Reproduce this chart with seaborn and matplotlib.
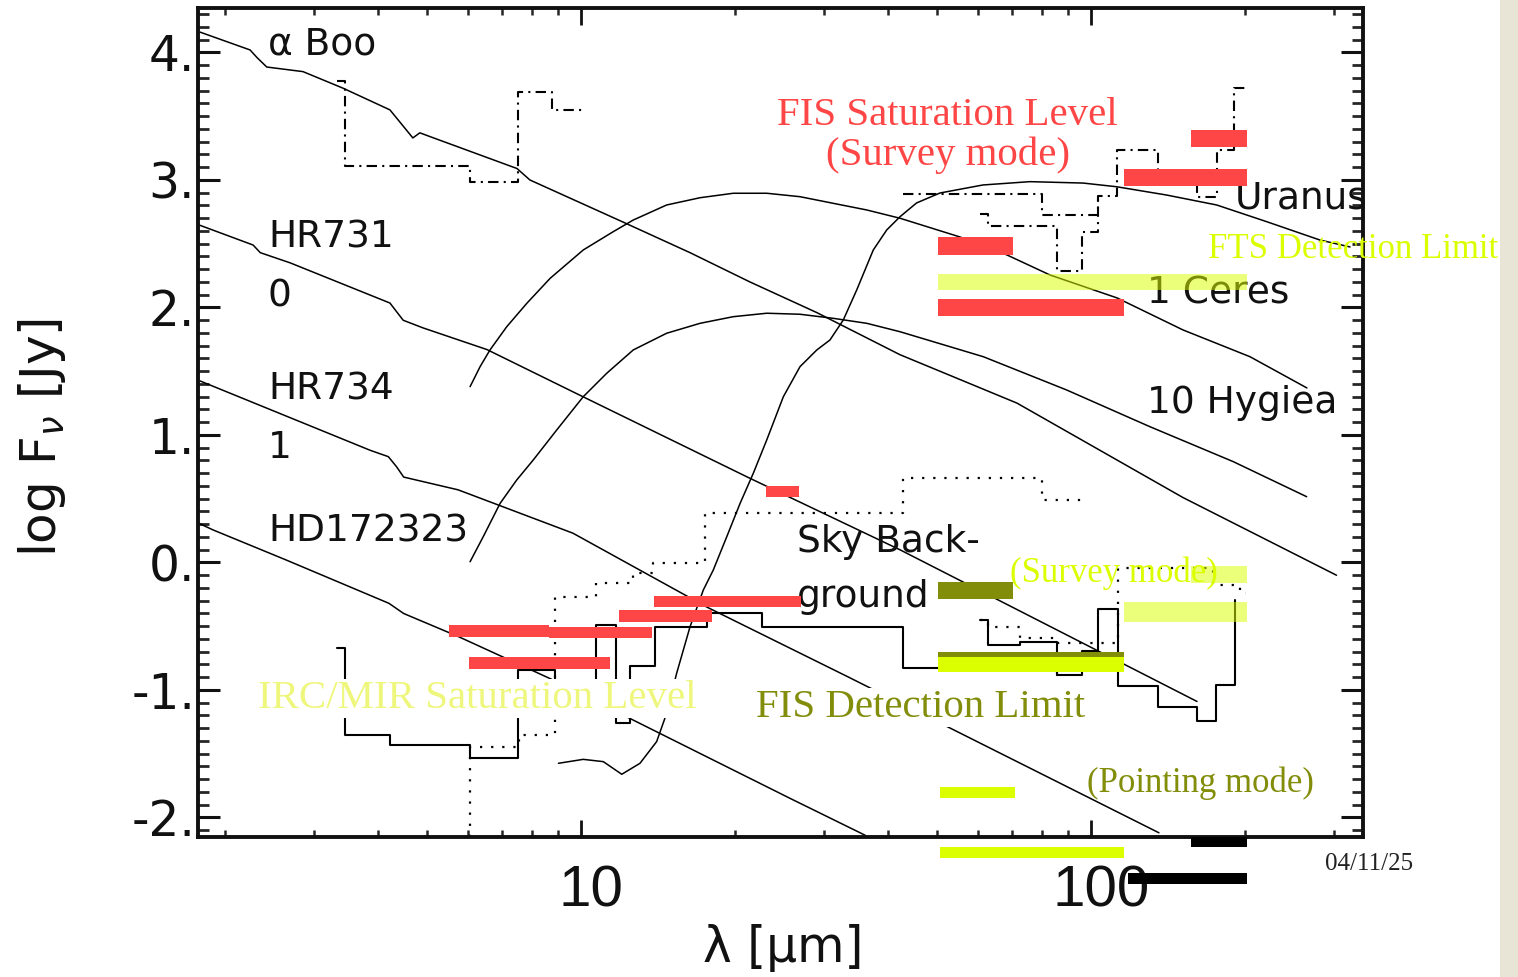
import numpy as np
import matplotlib
matplotlib.use("Agg")
import matplotlib.pyplot as plt
import matplotlib.ticker as mticker
import matplotlib.transforms as mtransforms
from matplotlib.patches import Rectangle
import seaborn as sns

# ---------------- data ----------------
# stellar spectra (lambda [um], log F [Jy])
aboo_lam = [1.79, 2.244, 2.316, 2.42, 2.85, 3.415, 4.22, 4.68, 4.83, 5.06, 7.49, 7.94, 12.09, 16.36, 21.45, 29.0, 42.2, 71.6, 151.4, 303]
aboo_f = [4.16, 4.02, 3.96, 3.886, 3.85, 3.72, 3.55, 3.33, 3.37, 3.34, 3.09, 3.00, 2.67, 2.43, 2.20, 1.96, 1.63, 1.25, 0.51, -0.10]

hr7310_lam = [1.775, 2.275, 2.35, 2.69, 4.22, 4.48, 4.90, 6.54, 10.09, 21.45, 42.2, 161.4]
hr7310_f = [2.65, 2.49, 2.43, 2.35, 2.035, 1.90, 1.84, 1.67, 1.30, 0.66, 0.10, -1.09]

hr7341_lam = [1.775, 3.86, 4.19, 4.35, 4.49, 5.74, 9.64, 17.66, 33.5, 135.9]
hr7341_f = [1.43, 0.88, 0.83, 0.75, 0.67, 0.57, 0.23, -0.35, -0.90, -2.12]

hd172323_lam = [1.775, 1.90, 2.64, 4.2, 4.49, 5.74, 8.69, 25.7, 36.1]
hd172323_f = [0.31, 0.255, 0.02, -0.32, -0.40, -0.58, -0.91, -1.85, -2.14]

# solar system objects
ceres_lam = [6.06, 6.34, 6.63, 7.15, 7.83, 8.70, 10.10, 11.57, 12.66, 14.72, 17.12, 19.89, 23.13, 26.88, 31.24, 36.33, 42.22, 55.36, 68.44, 83.1, 112.5, 151.5, 205, 265.1]
ceres_f = [1.379, 1.536, 1.667, 1.849, 2.033, 2.229, 2.451, 2.595, 2.686, 2.804, 2.861, 2.896, 2.896, 2.869, 2.817, 2.765, 2.70, 2.553, 2.412, 2.255, 2.075, 1.824, 1.614, 1.369]

hygiea_lam = [6.06, 6.43, 6.94, 7.48, 8.06, 8.96, 10.10, 11.23, 12.66, 14.72, 17.12, 19.89, 23.13, 26.88, 31.24, 36.33, 42.22, 61.5, 89.6, 130.5, 190.1, 264.8]
hygiea_f = [0.006, 0.202, 0.464, 0.647, 0.804, 1.039, 1.30, 1.484, 1.667, 1.798, 1.876, 1.928, 1.955, 1.947, 1.915, 1.876, 1.81, 1.614, 1.353, 1.065, 0.791, 0.516]

uranus_lam = [9.03, 10.10, 11.06, 12.02, 13.05, 14.07, 14.72, 15.40, 16.36, 17.37, 18.17, 19.31, 20.51, 21.77, 23.13, 24.93, 26.88, 29.0, 30.77, 32.68, 34.72, 37.42, 39.76, 42.22, 45.5, 50.57, 61.4, 75.9, 96.5, 112.3, 140.7, 176.4, 221.1, 281.2, 322]
uranus_f = [-1.575, -1.544, -1.562, -1.661, -1.575, -1.405, -1.183, -0.869, -0.504, -0.216, -0.059, 0.202, 0.464, 0.70, 0.961, 1.30, 1.536, 1.667, 1.745, 1.902, 2.137, 2.451, 2.608, 2.712, 2.82, 2.898, 2.961, 2.987, 2.976, 2.947, 2.882, 2.804, 2.673, 2.529, 2.475]

# stepped curves (step edges, levels)
dashdot1_lam = [3.32, 3.445, 6.06, 7.52, 8.77, 10.05]
dashdot1_f = [3.78, 3.11, 2.985, 3.69, 3.55, 3.55]
dashdot2_lam = [42.8, 80.2, 103.2, 112.5, 135.3, 161.4, 176.6, 190.7, 201]
dashdot2_f = [2.89, 2.725, 2.875, 3.235, 3.0, 2.867, 3.235, 3.72, 3.72]
dashdot3_lam = [60.6, 62.8, 85.8, 96.0, 103.2]
dashdot3_f = [2.73, 2.64, 2.29, 2.59, 2.875]

dotted1_lam = [6.07, 6.07, 7.56, 8.89, 10.7, 12.65, 13.84, 17.5, 42.8, 80.2, 97.3]
dotted1_f = [-2.15, -1.447, -1.353, -0.271, -0.161, -0.082, -0.004, 0.388, 0.663, 0.49, 0.49]
dotted2_lam = [60.6, 62.8, 72.6, 85.8, 113, 173.4, 195.9, 201]
dotted2_f = [-0.451, -0.506, -0.592, -0.631, -0.043, -0.176, -0.239, -0.239]

solid1_lam = [3.32, 3.445, 4.22, 6.06, 7.52, 8.89, 10.7, 11.71, 12.48, 13.97, 17.66, 22.64, 42.8, 85.8, 96.0, 103.2, 113, 135.3, 161.4, 175.8, 191.6, 191.6]
solid1_f = [-0.671, -1.353, -1.431, -1.533, -0.843, -1.118, -0.49, -1.259, -0.812, -0.506, -0.396, -0.506, -0.827, -0.882, -0.694, -0.365, -0.969, -1.133, -1.243, -0.961, -0.294, -0.294]
solid2_lam = [60.6, 62.8, 72.6, 85.8]
solid2_f = [-0.451, -0.647, -0.624, -0.882]

# limit bars: start, end, level, thickness
red_x1 = [157, 116, 50.1, 50.1, 23.05, 5.52, 8.64, 11.87, 13.9, 6.02]
red_x2 = [202.7, 202.7, 70.3, 116, 26.8, 8.64, 13.8, 18.03, 27.0, 11.4]
red_y = [3.325, 3.016, 2.482, 2.0, 0.557, -0.537, -0.549, -0.42, -0.306, -0.79]
red_h = [0.133, 0.133, 0.14, 0.133, 0.086, 0.094, 0.086, 0.094, 0.086, 0.094]

lyel_x1 = [50.1, 157, 116]
lyel_x2 = [202.7, 202.7, 202.7]
lyel_y = [2.2, -0.094, -0.388]
lyel_h = [0.133, 0.133, 0.16]

olive_x1 = [50.1, 50.1]
olive_x2 = [70.3, 116]
olive_y = [-0.22, -0.769]
olive_h = [0.133, 0.133]

byel_x1 = [50.1, 50.6, 50.6]
byel_x2 = [116, 70.9, 116]
byel_y = [-0.80, -1.804, -2.275]
byel_h = [0.118, 0.086, 0.086]

black_x1 = [157, 118]
black_x2 = [202.7, 202.7]
black_y = [-2.19, -2.478]
black_h = [0.078, 0.086]

xtick_vals = [10, 100]
xtick_labels = ["10", "100"]
ytick_vals = [-2, -1, 0, 1, 2, 3, 4]

# ---------------- style ----------------
sns.set_theme(style="white")
plt.rcParams["font.family"] = ["DejaVu Sans"]
plt.rcParams["mathtext.fontset"] = "dejavusans"

RED = "#ff4646"
BYEL = "#dcff00"
OLIVE = "#828d0a"

fig = plt.figure(figsize=(15.18, 9.77), dpi=100)
fig.patch.set_facecolor("white")
fig.patches.append(Rectangle((1500 / 1518, 0), 18 / 1518, 1, transform=fig.transFigure,
                             facecolor="#e8e4d6", edgecolor="none", zorder=0))
ax = fig.add_axes([198 / 1518, 1 - 837 / 977, (1363 - 198) / 1518, (837 - 8) / 977])
ax.set_facecolor("white")
ax.set_xscale("log")
ax.set_xlim(1.774, 341.5)
ax.set_ylim(-2.153, 4.349)

def curve(lam, f, lw=1.1, **kw):
    sns.lineplot(x=lam, y=f, ax=ax, estimator=None, sort=False, color="black",
                 lw=lw, zorder=2, **kw)

for lam, f in [(aboo_lam, aboo_f), (hr7310_lam, hr7310_f), (hr7341_lam, hr7341_f),
               (hd172323_lam, hd172323_f), (ceres_lam, ceres_f), (hygiea_lam, hygiea_f),
               (uranus_lam, uranus_f)]:
    curve(lam, f)

dd = (0, (5, 2.5, 1, 2.5))
for lam, f in [(dashdot1_lam, dashdot1_f), (dashdot2_lam, dashdot2_f), (dashdot3_lam, dashdot3_f)]:
    curve(lam, f, lw=1.5, drawstyle="steps-post", linestyle=dd)
for lam, f in [(dotted1_lam, dotted1_f), (dotted2_lam, dotted2_f)]:
    curve(lam, f, lw=1.6, drawstyle="steps-post", linestyle=(0, (1, 4)))
for lam, f in [(solid1_lam, solid1_f), (solid2_lam, solid2_f)]:
    curve(lam, f, lw=1.5, drawstyle="steps-post")

def bars(x1, x2, y, h, color, alpha=1.0, z=5):
    x1 = np.asarray(x1); x2 = np.asarray(x2)
    ax.barh(y, x2 - x1, left=x1, height=h, color=color, alpha=alpha,
            edgecolor="none", zorder=z, clip_on=False)

bars(red_x1, red_x2, red_y, red_h, RED)
bars(olive_x1, olive_x2, olive_y, olive_h, OLIVE)
bars(byel_x1, byel_x2, byel_y, byel_h, BYEL)
bars(black_x1, black_x2, black_y, black_h, "black")
bars(lyel_x1, lyel_x2, lyel_y, lyel_h, BYEL, alpha=0.52, z=6)

# ---------------- labels ----------------
sans = dict(fontsize=27, color="#111111", ha="left", va="baseline", zorder=3)
ax.text(2.433, 3.988, "α Boo", **sans)
ax.text(2.433, 2.467, "HR731", **sans)
ax.text(2.433, 2.004, "0", **sans)
ax.text(2.433, 1.275, "HR734", **sans)
ax.text(2.433, 0.82, "1", **sans)
ax.text(2.433, 0.161, "HD172323", **sans)
ax.text(191.6, 2.78, "Uranus", clip_on=False, **sans)
ax.text(128.8, 2.035, "1 Ceres", **sans)
ax.text(128.8, 1.173, "10 Hygiea", **sans)
ax.text(26.5, 0.082, "Sky Back-", **sans)
ax.text(26.5, -0.35, "ground", **sans)

serif = ["Liberation Serif", "DejaVu Serif"]
ax.text(52.4, 3.431, "FIS Saturation Level", family=serif, fontsize=29.4, color=RED,
        ha="center", va="baseline", zorder=3)
ax.text(52.4, 3.118, "(Survey mode)", family=serif, fontsize=29.4, color=RED,
        ha="center", va="baseline", zorder=3)
ax.text(169.6, 2.388, "FTS Detection Limit", family=serif, fontsize=25, color=BYEL,
        ha="left", va="baseline", zorder=7, clip_on=False)
ax.text(2.326, -1.141, "IRC/MIR Saturation Level", family=serif, fontsize=29.4,
        color="#eef77c", ha="left", va="baseline", zorder=3,
        bbox=dict(boxstyle="square,pad=0.02", fc="white", ec="none"))
ax.text(22.03, -1.212, "FIS Detection Limit", family=serif, fontsize=29.4, color=OLIVE,
        ha="left", va="baseline", zorder=3,
        bbox=dict(boxstyle="square,pad=0.02", fc="white", ec="none"))
ax.text(69.4, -0.153, "(Survey mode)", family=serif, fontsize=25, color=BYEL,
        ha="left", va="baseline", zorder=7)
ax.text(98.2, -1.80, "(Pointing mode)", family=serif, fontsize=25, color=OLIVE,
        ha="left", va="baseline", zorder=3)
fig.text(1325 / 1518, 1 - 870 / 977, "04/11/25", family=serif, fontsize=18,
         color="#222222", ha="left", va="baseline")

# ---------------- axes ----------------
ax.xaxis.set_major_locator(mticker.FixedLocator(xtick_vals))
ax.xaxis.set_major_formatter(mticker.FixedFormatter(xtick_labels))
ax.xaxis.set_minor_locator(mticker.LogLocator(base=10, subs=np.arange(2, 10)))
ax.xaxis.set_minor_formatter(mticker.NullFormatter())
ax.yaxis.set_major_locator(mticker.FixedLocator(ytick_vals))
ax.yaxis.set_major_formatter(mticker.FuncFormatter(lambda v, p: f"{int(round(v))}."))
ax.yaxis.set_minor_locator(mticker.MultipleLocator(0.1))

ax.tick_params(axis="y", which="major", length=16, width=2.2, direction="in",
               left=True, right=True, labelsize=35, pad=2, colors="#111111")
ax.tick_params(axis="y", which="minor", length=8, width=2.0, direction="in",
               left=True, right=True)
ax.tick_params(axis="x", which="major", length=12, width=2.0, direction="in",
               top=True, bottom=True, pad=20, colors="#111111")
ax.tick_params(axis="x", which="minor", length=5, width=1.8, direction="in",
               top=True, bottom=True)
offset = mtransforms.ScaledTranslation(10 / 100, 0, fig.dpi_scale_trans)
for lab in ax.xaxis.get_majorticklabels():
    lab.set_family(["Liberation Sans", "DejaVu Sans"])
    lab.set_fontsize(42)
    lab.set_transform(lab.get_transform() + offset)
for s in ax.spines.values():
    s.set_linewidth(2.8)
    s.set_color("#111111")

ax.set_xlabel("")
ax.set_ylabel("")
fig.text(783 / 1518, 1 - 948 / 977, "λ [μm]", fontsize=35, ha="center", va="center",
         color="#111111")
fig.text(42 / 1518, 1 - 437 / 977, r"log F$_\nu$ [Jy]", fontsize=36, rotation=90,
         ha="center", va="center", color="#111111")

fig.savefig("out.png", dpi=100, facecolor="white")
